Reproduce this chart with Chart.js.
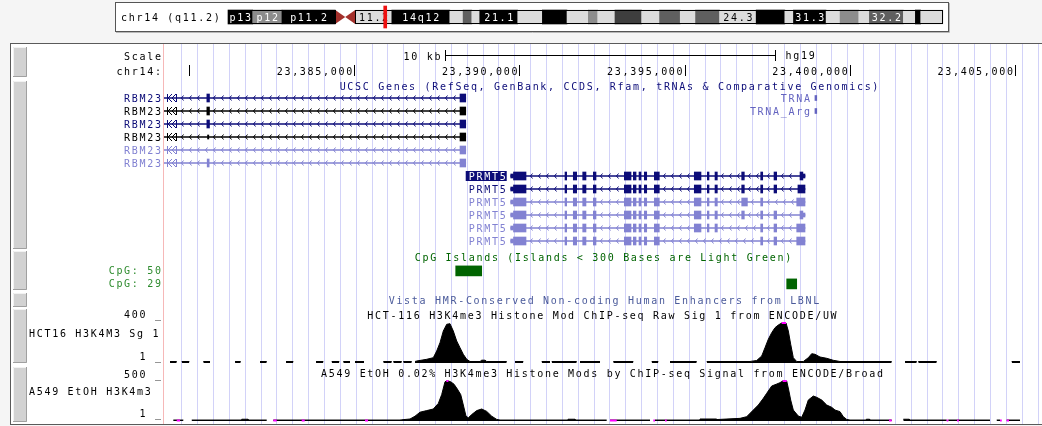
<!DOCTYPE html>
<html>
<head>
<meta charset="utf-8">
<title>chr14 PRMT5 region</title>
<script src="https://cdn.jsdelivr.net/npm/chart.js@4.4.1/dist/chart.umd.min.js"></script>
<style>
    html, body { margin: 0; padding: 0; background: #f5f5f5; }
    #wrap { position: relative; width: 1042px; height: 426px; overflow: hidden; }
    canvas { position: absolute; left: 0; top: 0; }
</style>
</head>
<body>
<div id="wrap">
    <canvas id="browser" width="1042" height="426"></canvas>
    <canvas id="ideogram" width="1042" height="40"></canvas>
</div>
<script>
// ---------- data ----------

// chromosome 14 bands
var chromName = 'chr14 (q11.2)';
var chromLength = 107349540;
var bandNames  = ['p13','p12','p11.2','p11.1','q11.1','q11.2','q12','q13.1','q13.2','q13.3','q21.1','q21.2','q21.3','q22.1','q22.2','q22.3','q23.1','q23.2','q23.3','q24.1','q24.2','q24.3','q31.1','q31.2','q31.3','q32.11','q32.12','q32.13','q32.2','q32.31','q32.32','q32.33'];
var bandStarts = [0,3700000,8100000,16100000,17600000,19100000,24600000,33300000,35300000,36600000,37800000,43500000,47200000,50900000,54100000,55500000,58100000,62100000,64800000,67900000,70200000,73800000,79300000,83600000,84900000,89800000,91900000,94700000,96300000,101400000,103200000,104000000];
var bandEnds   = [3700000,8100000,16100000,17600000,19100000,24600000,33300000,35300000,36600000,37800000,43500000,47200000,50900000,54100000,55500000,58100000,62100000,64800000,67900000,70200000,73800000,79300000,83600000,84900000,89800000,91900000,94700000,96300000,101400000,103200000,104000000,107349540];
var bandStains = ['gvar','stalk','gvar','acen','acen','gneg','gpos100','gneg','gpos50','gneg','gpos100','gneg','gpos100','gneg','gpos25','gneg','gpos75','gneg','gpos50','gneg','gpos50','gneg','gpos100','gneg','gpos100','gneg','gpos25','gneg','gpos50','gneg','gpos100','gneg'];
var bandLabels = ['p13','p12','p11.2','','','11.2','14q12','','','','21.1','','','','','','','','','','','24.3','','','31.3','','','','32.2','','',''];

// window shown
var winStart = 23379243;
var winEnd = 23405817;

// ruler
var rulerTicks  = [23380000, 23385000, 23390000, 23395000, 23400000, 23405000];
var rulerLabels = ['', '23,385,000', '23,390,000', '23,395,000', '23,400,000', '23,405,000'];
var scaleBar = [23387750, 23397750];
var scaleBarLabel = '10 kb';
var assembly = 'hg19';

// UCSC genes, one transcript per row
var geneNames  = ['RBM23','RBM23','RBM23','RBM23','RBM23','RBM23','PRMT5','PRMT5','PRMT5','PRMT5','PRMT5','PRMT5'];
var geneStarts = [23369854,23369854,23369854,23369854,23369854,23369854,23389737,23389737,23389737,23389737,23389737,23389737];
var geneEnds   = [23388375,23388375,23388375,23388375,23388375,23388375,23398644,23398644,23398644,23398644,23398644,23398644];

var rbm23Cds = [
    [[23380540,23380620],[23388202,23388375]],
    [[23380540,23380620],[23388202,23388375]],
    [[23380540,23380620],[23388202,23388375]],
    [[23388202,23388375]],
    [[23388202,23388375]],
    [[23380550,23380610],[23388202,23388375]]
];
var rbm23Utr = [[], [], [], [[23380560,23380600]], [], []];

var prmt5Exons = [[23389821,23390200],[23391380,23391431],[23391631,23391734],[23391916,23392015],[23392237,23392318],[23393175,23393378],[23393448,23393530],[23393620,23393680],[23393780,23393853],[23394083,23394234],[23395293,23395496],[23395687,23395738],[23395920,23395990],[23396728,23396807],[23397303,23397364],[23397706,23397787],[23398493,23398580],[23396728,23396900],[23398393,23398644],[23398430,23398644]];
var prmt5RowExons = [
    [0,1,2,3,4,5,6,7,8,9,10,11,12,13,14,15,16],
    [0,1,2,3,4,5,6,7,8,9,10,11,12,13,14,15,19],
    [0,1,2,3,4,5,6,7,8,9,10,11,12,17,14,18],
    [0,1,2,3,4,5,6,7,8,9,10,11,12,13,14,15,16],
    [0,1,2,3,4,5,6,7,8,9,10,11,12,14,15,18],
    [0,1,2,3,4,5,6,7,8,9,14,15,18]
];
var prmt5Utr = [
    [[23389737,23389821],[23398580,23398644]],
    [[23389737,23389821]],
    [[23389737,23389821]],
    [[23389737,23389821],[23398580,23398644]],
    [[23389737,23389821]],
    [[23389737,23389821]]
];

// tRNA genes
var trnaNames  = ['TRNA', 'TRNA_Arg'];
var trnaStarts = [23398945, 23398945];
var trnaEnds   = [23399000, 23399000];

// CpG islands
var cpgLabels = ['CpG: 50', 'CpG: 29'];
var cpgStarts = [23388072, 23398090];
var cpgEnds   = [23388859, 23398393];

// HCT-116 H3K4me3 raw signal, pieces of [position, value]
var hctMax = 400;
var hctSignal = [
    [[23379425,15],[23379628,15]],
    [[23379779,15],[23380009,15]],
    [[23380433,15],[23380636,15]],
    [[23381393,15],[23381565,15]],
    [[23382149,15],[23382352,15]],
    [[23382936,15],[23383157,15]],
    [[23383844,15],[23384065,15]],
    [[23384319,15],[23384549,15]],
    [[23384670,15],[23384873,15]],
    [[23385024,15],[23385297,15]],
    [[23385881,15],[23386135,15]],
    [[23386184,15],[23386438,15]],
    [[23386486,15],[23386741,15]],
    [[23386840,15],[23386892,20],[23387194,37],[23387394,53],[23387497,120],[23387597,203],[23387697,320],[23387800,387],[23387899,393],[23387999,320],[23388102,220],[23388202,153],[23388302,87],[23388405,37],[23388505,15],[23388808,15],[23388860,28],[23388960,28],[23389010,15],[23389616,15]],
    [[23389867,15],[23390118,15]],
    [[23390675,15],[23390926,15]],
    [[23390978,15],[23391734,15]],
    [[23391834,15],[23392440,15]],
    [[23392842,15],[23393448,15]],
    [[23394004,15],[23394204,15]],
    [[23394558,15],[23395366,15]],
    [[23395669,15],[23396980,15],[23397031,18],[23397182,25],[23397334,70],[23397433,153],[23397533,237],[23397636,303],[23397736,353],[23397836,380],[23397939,430],[23398069,420],[23398139,320],[23398211,187],[23398290,53],[23398393,15],[23398593,15],[23398744,53],[23398847,93],[23398947,87],[23399098,60],[23399301,47],[23399501,27],[23399703,15],[23401268,15]],
    [[23401671,15],[23402025,15]],
    [[23402073,15],[23402630,15]],
    [[23404900,15],[23405151,15]]
];

// A549 H3K4me3 signal
var a549Max = 500;
var a549Signal = [
    [[23379525,12],[23379828,12]],
    [[23380082,12],[23381595,12],[23381595,22],[23381786,22],[23381786,12],[23382352,12]],
    [[23382552,12],[23386386,12],[23386438,15],[23386689,25],[23386840,60],[23386992,110],[23387194,130],[23387394,150],[23387546,220],[23387648,330],[23387748,490],[23387790,510],[23387850,510],[23387921,490],[23388021,460],[23388121,400],[23388224,330],[23388302,200],[23388384,60],[23388454,40],[23388556,80],[23388708,130],[23388859,150],[23389010,120],[23389162,60],[23389313,20],[23389413,12],[23391471,12],[23391471,22],[23391683,22],[23391683,12],[23392642,12]],
    [[23392742,12],[23393953,12]],
    [[23394104,12],[23395466,12],[23395466,25],[23395970,25],[23395970,18],[23396677,33],[23396879,54],[23397079,137],[23397231,200],[23397382,283],[23397485,346],[23397636,437],[23397788,462],[23397887,479],[23397969,520],[23398090,510],[23398151,387],[23398211,262],[23398290,137],[23398441,62],[23398544,46],[23398644,137],[23398744,262],[23398895,312],[23398998,296],[23399150,262],[23399301,200],[23399452,171],[23399552,137],[23399703,117],[23399803,54],[23399906,20],[23400006,12],[23400500,12],[23400500,22],[23400600,22],[23400600,12],[23401268,12]],
    [[23401619,22],[23401800,22],[23401800,12],[23402933,12]],
    [[23402981,12],[23404243,12]],
    [[23404446,12],[23404546,12]],
    [[23404748,12],[23405151,12]]
];
// spots below the view range (drawn in magenta)
var a549LowClip = [[23379628,23379728],[23382552,23382654],[23383411,23383502],[23385327,23385418],[23392742,23392945],[23394053,23394104],[23394407,23394458],[23401186,23401268],[23402933,23402981],[23403245,23403300],[23404546,23404600],[23404748,23404818]];

// ---------- styles ----------
var FONT = '10px "DejaVu Sans Mono", monospace';
var LS = 1.7;
var navy = '#0c0c78', light = '#8282d2';
var rowColors = [navy, '#000000', navy, '#000000', light, light, navy, navy, light, light, light, light];
var stainColors = { gneg: '#dcdcdc', gpos25: '#8c8c8c', gpos50: '#5f5f5f', gpos75: '#3e3e3e', gpos100: '#000000', gvar: '#000000', stalk: '#8c8c8c', acen: '#a3302b' };
var magenta = '#ff00ff';

function drawText(ctx, s, x, y, color, align) {
    ctx.save();
    ctx.font = FONT;
    if ('letterSpacing' in ctx) ctx.letterSpacing = LS + 'px';
    ctx.fillStyle = color;
    ctx.textAlign = align || 'left';
    ctx.textBaseline = 'alphabetic';
    var dx = align === 'right' ? LS : (align === 'center' ? LS / 2 : 0);
    ctx.fillText(s, x + dx, y + 3.6);
    ctx.restore();
}

// ---------- ideogram ----------
var bandData = [], bandColors = [];
for (var i = 0; i < bandNames.length; ++i) {
    if (bandStains[i] === 'acen') continue;
    bandData.push({ x: [bandStarts[i], bandEnds[i]], y: 0.5 });
    bandColors.push(stainColors[bandStains[i]]);
}

var ideogramDecor = {
    id: 'ideogramDecor',
    beforeDraw: function(chart) {
        var ctx = chart.ctx;
        ctx.save();
        ctx.fillStyle = '#ffffff';
        ctx.fillRect(116, 3, 832, 28);
        ctx.strokeStyle = '#555555';
        ctx.lineWidth = 1;
        ctx.strokeRect(115.5, 2.5, 833, 29);
        ctx.strokeStyle = '#b8b8b8';
        ctx.beginPath(); ctx.moveTo(116, 32.5); ctx.lineTo(949.5, 32.5); ctx.lineTo(949.5, 3); ctx.stroke();
        ctx.restore();
        drawText(ctx, chromName, 121, 17, '#000000', 'left');
    },
    afterDatasetDraw: function(chart, args) {
        if (args.index !== 1) return;
        var ctx = chart.ctx, xs = chart.scales.x, area = chart.chartArea;
        var top = area.top, bot = area.bottom, mid = (top + bot) / 2;
        var cenStart = null, cenEnd = null;
        ctx.save();
        ctx.fillStyle = stainColors.acen;
        for (var i = 0; i < bandNames.length; ++i) {
            if (bandStains[i] !== 'acen') continue;
            var a = xs.getPixelForValue(bandStarts[i]), b = xs.getPixelForValue(bandEnds[i]);
            if (cenStart === null) cenStart = bandStarts[i];
            cenEnd = bandEnds[i];
            ctx.beginPath();
            if (bandNames[i].charAt(0) === 'p') {
                ctx.moveTo(a, top); ctx.lineTo(b, mid); ctx.lineTo(a, bot);
            } else {
                ctx.moveTo(b, top); ctx.lineTo(a, mid); ctx.lineTo(b, bot);
            }
            ctx.closePath();
            ctx.fill();
        }
        // outline of both arms
        ctx.strokeStyle = '#000000';
        ctx.lineWidth = 1;
        var p0 = xs.getPixelForValue(0), p1 = xs.getPixelForValue(cenStart);
        var q0 = xs.getPixelForValue(cenEnd), q1 = xs.getPixelForValue(chromLength);
        ctx.strokeRect(Math.round(p0) + 0.5, top + 0.5, Math.round(p1 - p0), bot - top - 1);
        ctx.strokeRect(Math.round(q0) + 0.5, top + 0.5, Math.round(q1 - q0) - 1, bot - top - 1);
        ctx.restore();
        // band names
        for (var j = 0; j < bandNames.length; ++j) {
            if (!bandLabels[j]) continue;
            var c = (xs.getPixelForValue(bandStarts[j]) + xs.getPixelForValue(bandEnds[j])) / 2;
            var dark = bandStains[j] !== 'gneg';
            drawText(ctx, bandLabels[j], c, mid, dark ? '#ffffff' : '#000000', 'center');
        }
    }
};

new Chart(document.getElementById('ideogram'), {
    type: 'bar',
    data: {
        datasets: [
            {
                label: 'window',
                data: [{ x: [winStart, winEnd], y: 0.5 }],
                indexAxis: 'y', grouped: false, barThickness: 22, minBarLength: 3,
                backgroundColor: '#ee1111', borderWidth: 0, clip: false
            },
            {
                label: 'bands',
                data: bandData,
                indexAxis: 'y', grouped: false, barThickness: 14,
                backgroundColor: bandColors, borderWidth: 0, clip: false
            }
        ]
    },
    options: {
        responsive: false,
        animation: false,
        events: [],
        layout: { padding: { left: 228, right: 99, top: 10, bottom: 16 } },
        plugins: { legend: { display: false }, tooltip: { enabled: false } },
        scales: {
            x: { type: 'linear', min: 0, max: chromLength, offset: false, display: false },
            y: { type: 'linear', min: 0, max: 1, offset: false, display: false }
        }
    },
    plugins: [ideogramDecor]
});

// ---------- browser tracks ----------
var AREA_TOP = 44, AREA_BOTTOM = 424;
var ROW0 = 98, ROWH = 13;

// axis range putting value 0 at zeroPx and maxVal at maxPx
function trackRange(zeroPx, maxPx, maxVal) {
    var perPx = maxVal / (zeroPx - maxPx);
    return { min: -(AREA_BOTTOM - zeroPx) * perPx, max: (zeroPx - AREA_TOP) * perPx };
}
var hctRange = trackRange(363, 323, hctMax);
var a549Range = trackRange(421, 381, a549Max);

// build line data from signal pieces, with gaps between pieces
function signalData(pieces, maxVal) {
    var fill = [], over = [];
    pieces.forEach(function(p) {
        p.forEach(function(pt) {
            fill.push({ x: pt[0], y: Math.min(pt[1], maxVal) });
            over.push({ x: pt[0], y: pt[1] > maxVal ? maxVal : null });
        });
        var last = p[p.length - 1][0];
        fill.push({ x: last, y: null });
        over.push({ x: last, y: null });
    });
    return { fill: fill, over: over };
}
var hctData = signalData(hctSignal, hctMax);
var a549Data = signalData(a549Signal, a549Max);
var a549LowData = [];
a549LowClip.forEach(function(s) {
    a549LowData.push({ x: s[0], y: 6 }, { x: s[1], y: 6 }, { x: s[1], y: null });
});

// gene rows
var spanData = [], spanColors = [];
var cdsData = [], cdsColors = [], utrData = [], utrColors = [];
var rowBlocks = [];
for (var r = 0; r < geneNames.length; ++r) {
    spanData.push({ x: [geneStarts[r], geneEnds[r]], y: r });
    spanColors.push(rowColors[r]);
    var cds, utr;
    if (r < 6) {
        cds = rbm23Cds[r];
        utr = rbm23Utr[r];
    } else {
        cds = prmt5RowExons[r - 6].map(function(k) { return prmt5Exons[k]; });
        utr = prmt5Utr[r - 6];
    }
    cds.forEach(function(e) { cdsData.push({ x: e, y: r }); cdsColors.push(rowColors[r]); });
    utr.forEach(function(e) { utrData.push({ x: e, y: r }); utrColors.push(rowColors[r]); });
    rowBlocks.push(cds.concat(utr).slice().sort(function(a, b) { return a[0] - b[0]; }));
}
var trnaData = [];
for (var t = 0; t < trnaNames.length; ++t) trnaData.push({ x: [trnaStarts[t], trnaEnds[t]], y: t });
var cpgData = [];
for (var c = 0; c < cpgLabels.length; ++c) cpgData.push({ x: [cpgStarts[c], cpgEnds[c]], y: 13.3 + c });

function drawChevrons(ctx, x0, x1, y, color) {
    ctx.strokeStyle = color;
    ctx.lineWidth = 1;
    ctx.beginPath();
    for (var x = x0 + 4; x < x1 - 4; x += 8) {
        var px = Math.round(x) + 0.5;
        ctx.moveTo(px + 2, y - 2.5);
        ctx.lineTo(px, y);
        ctx.lineTo(px + 2, y + 2.5);
    }
    ctx.stroke();
}

var browserDecor = {
    id: 'browserDecor',
    beforeDraw: function(chart) {
        var ctx = chart.ctx, W = chart.width;
        ctx.save();
        ctx.fillStyle = '#f5f5f5';
        ctx.fillRect(0, 0, W, chart.height);
        ctx.fillStyle = '#ffffff';
        ctx.fillRect(11, 44, W - 11, 380);
        ctx.strokeStyle = '#5a5a5a';
        ctx.lineWidth = 1;
        ctx.strokeRect(10.5, 43.5, W, 381);
        // side buttons
        [[47,77],[81,249],[251,290],[293,307],[309,363],[367,422]].forEach(function(b) {
            ctx.fillStyle = '#d2d2d2';
            ctx.fillRect(13, b[0], 14, b[1] - b[0]);
            ctx.strokeStyle = '#f2f2f2';
            ctx.beginPath(); ctx.moveTo(13.5, b[1]); ctx.lineTo(13.5, b[0] + 0.5); ctx.lineTo(27, b[0] + 0.5); ctx.stroke();
            ctx.strokeStyle = '#a0a0a0';
            ctx.beginPath(); ctx.moveTo(26.5, b[0]); ctx.lineTo(26.5, b[1] - 0.5); ctx.lineTo(13, b[1] - 0.5); ctx.stroke();
        });
        // left edge of data area
        ctx.fillStyle = '#f6b8b8';
        ctx.fillRect(163, 44, 1, 380);
        ctx.restore();
    },
    afterDatasetsDraw: function(chart) {
        var ctx = chart.ctx, xs = chart.scales.x, yg = chart.scales.yg, area = chart.chartArea;
        var px = function(v) { return xs.getPixelForValue(v); };

        // ruler
        drawText(ctx, 'Scale', 161, 56, '#000000', 'right');
        drawText(ctx, 'chr14:', 161, 71, '#000000', 'right');
        ctx.save();
        ctx.strokeStyle = '#000000';
        ctx.lineWidth = 1;
        var a = Math.round(px(scaleBar[0])) + 0.5, b = Math.round(px(scaleBar[1])) + 0.5;
        ctx.beginPath();
        ctx.moveTo(a, 50); ctx.lineTo(a, 61);
        ctx.moveTo(b, 50); ctx.lineTo(b, 61);
        ctx.moveTo(a, 55.5); ctx.lineTo(b, 55.5);
        rulerTicks.forEach(function(t) {
            var x = Math.round(px(t)) + 0.5;
            if (x < area.left || x > area.right) return;
            ctx.moveTo(x, 65); ctx.lineTo(x, 76);
        });
        ctx.stroke();
        ctx.restore();
        drawText(ctx, scaleBarLabel, a - 5, 56, '#000000', 'right');
        drawText(ctx, assembly, b + 10, 55.5, '#000000', 'left');
        rulerTicks.forEach(function(t, k) {
            if (rulerLabels[k]) drawText(ctx, rulerLabels[k], px(t) - 2, 71.5, '#000000', 'right');
        });

        // gene track
        drawText(ctx, 'UCSC Genes (RefSeq, GenBank, CCDS, Rfam, tRNAs & Comparative Genomics)', 609, 86.5, navy, 'center');
        ctx.save();
        ctx.beginPath();
        ctx.rect(area.left, area.top, area.right - area.left, area.bottom - area.top);
        ctx.clip();
        for (var r = 0; r < geneNames.length; ++r) {
            var y = yg.getPixelForValue(r);
            var blocks = rowBlocks[r];
            var from = Math.max(px(geneStarts[r]), area.left);
            if (geneStarts[r] < winStart) {
                // continuation marks at the window edge
                ctx.strokeStyle = rowColors[r];
                ctx.beginPath();
                ctx.moveTo(167.5, y - 4); ctx.lineTo(167.5, y + 4);
                ctx.moveTo(172, y - 4); ctx.lineTo(168, y); ctx.lineTo(172, y + 4);
                ctx.moveTo(176, y - 4); ctx.lineTo(172, y); ctx.lineTo(176, y + 4);
                ctx.moveTo(176.5, y - 4); ctx.lineTo(176.5, y + 4);
                ctx.stroke();
                from = 177;
            }
            blocks.forEach(function(bk) {
                var s = px(bk[0]);
                if (s > from) drawChevrons(ctx, from, s, y, rowColors[r]);
                from = Math.max(from, px(bk[1]));
            });
        }
        ctx.restore();
        for (var g = 0; g < geneNames.length; ++g) {
            var gy = yg.getPixelForValue(g);
            if (geneStarts[g] < winStart) {
                drawText(ctx, geneNames[g], 161, gy, rowColors[g], 'right');
            } else {
                var lx = px(geneStarts[g]) - 5;
                if (g === 6) {
                    ctx.fillStyle = navy;
                    ctx.fillRect(lx - 40, gy - 5, 41, 10);
                    drawText(ctx, geneNames[g], lx, gy, '#ffffff', 'right');
                } else {
                    drawText(ctx, geneNames[g], lx, gy, rowColors[g], 'right');
                }
            }
        }
        for (var t = 0; t < trnaNames.length; ++t) {
            drawText(ctx, trnaNames[t], px(trnaStarts[t]) - 5, yg.getPixelForValue(t), '#6464c0', 'right');
        }

        // CpG islands
        drawText(ctx, 'CpG Islands (Islands < 300 Bases are Light Green)', 603, 257.5, '#006400', 'center');
        for (var c = 0; c < cpgLabels.length; ++c) {
            drawText(ctx, cpgLabels[c], 161, yg.getPixelForValue(13.3 + c) - 0.5, '#2e8b2e', 'right');
        }

        // Vista enhancers
        drawText(ctx, 'Vista HMR-Conserved Non-coding Human Enhancers from LBNL', 604, 300, '#4a5a9a', 'center');

        // signal tracks
        drawText(ctx, 'HCT-116 H3K4me3 Histone Mod ChIP-seq Raw Sig 1 from ENCODE/UW', 602, 315, '#000000', 'center');
        drawText(ctx, hctMax + ' _', 161, 314, '#000000', 'right');
        drawText(ctx, 'HCT16 H3K4M3 Sg 1', 29, 333, '#000000', 'left');
        drawText(ctx, '1 _', 161, 356, '#000000', 'right');
        drawText(ctx, 'A549 EtOH 0.02% H3K4me3 Histone Mods by ChIP-seq Signal from ENCODE/Broad', 602, 373.5, '#000000', 'center');
        drawText(ctx, a549Max + ' _', 161, 374, '#000000', 'right');
        drawText(ctx, 'A549 EtOH H3K4m3', 29, 391.5, '#000000', 'left');
        drawText(ctx, '1 _', 161, 413, '#000000', 'right');
    }
};

function barSet(label, data, colors, thickness) {
    return {
        type: 'bar', label: label, data: data,
        indexAxis: 'y', xAxisID: 'x', yAxisID: 'yg',
        grouped: false, barThickness: thickness,
        backgroundColor: colors, borderWidth: 0, clip: 0
    };
}
function lineSet(label, data, axis, color, width, fill) {
    return {
        type: 'line', label: label, data: data,
        xAxisID: 'x', yAxisID: axis,
        borderColor: color, backgroundColor: color, borderWidth: width,
        fill: fill ? 'origin' : false, pointRadius: 0, tension: 0, spanGaps: false
    };
}

new Chart(document.getElementById('browser'), {
    type: 'bar',
    data: {
        datasets: [
            lineSet('HCT-116 clipped', hctData.over, 'ys1', magenta, 2, false),
            lineSet('A549 clipped', a549Data.over, 'ys2', magenta, 2, false),
            lineSet('A549 low', a549LowData, 'ys2', magenta, 2, false),
            lineSet('HCT-116 H3K4me3', hctData.fill, 'ys1', '#000000', 1, true),
            lineSet('A549 H3K4me3', a549Data.fill, 'ys2', '#000000', 1, true),
            barSet('coding exons', cdsData, cdsColors, 8),
            barSet('UTR', utrData, utrColors, 4),
            barSet('tRNA', trnaData, '#6464c0', 5),
            barSet('CpG islands', cpgData, '#006400', 10),
            barSet('introns', spanData, spanColors, 1)
        ]
    },
    options: {
        responsive: false,
        animation: false,
        events: [],
        layout: { padding: { left: 164, right: 0, top: AREA_TOP, bottom: 426 - AREA_BOTTOM } },
        plugins: { legend: { display: false }, tooltip: { enabled: false } },
        scales: {
            x: {
                type: 'linear', min: winStart, max: winEnd, offset: false,
                afterBuildTicks: function(axis) {
                    // light guide lines every 480 bp
                    var ticks = [];
                    for (var v = 23379779; v <= winEnd; v += 480) ticks.push({ value: v });
                    axis.ticks = ticks;
                },
                ticks: { display: false },
                grid: { color: '#d2d2f8', drawTicks: false, offset: false },
                border: { display: false }
            },
            yg: {
                axis: 'y', type: 'linear', reverse: true, display: false, offset: false,
                min: -(ROW0 - AREA_TOP) / ROWH,
                max: (AREA_BOTTOM - ROW0) / ROWH
            },
            ys1: { axis: 'y', type: 'linear', display: false, offset: false, min: hctRange.min, max: hctRange.max },
            ys2: { axis: 'y', type: 'linear', display: false, offset: false, min: a549Range.min, max: a549Range.max }
        }
    },
    plugins: [browserDecor]
});
</script>
</body>
</html>
